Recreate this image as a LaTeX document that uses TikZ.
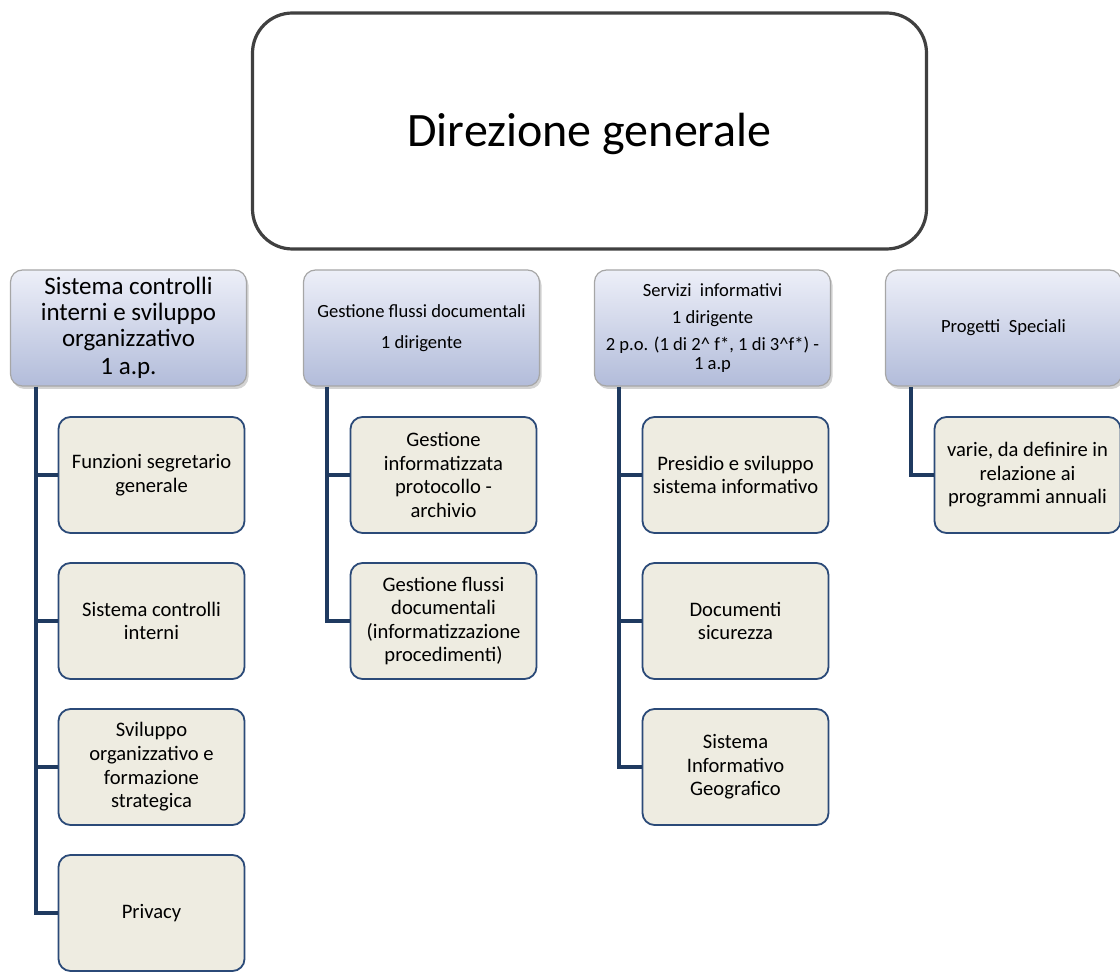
\documentclass[tikz,border=0pt]{standalone}
\usepackage{fontspec}
\setmainfont{Carlito}
\usetikzlibrary{shadows}
\definecolor{navy}{HTML}{1F3A60}
\definecolor{headtop}{HTML}{EDEFF8}
\definecolor{headbot}{HTML}{B2BCDA}
\definecolor{itemfill}{HTML}{EEECE1}
\definecolor{itemline}{HTML}{2B4A78}
\tikzset{
  topbox/.style={draw=black!75, line width=1.6pt, fill=white, rounded corners=20pt,
    minimum width=337pt, minimum height=118pt, font=\fontsize{24}{28}\selectfont},
  headbox/.style={draw=black!35, line width=0.6pt, top color=headtop, bottom color=headbot,
    rounded corners=6pt, minimum width=118pt, minimum height=58pt, align=center,
    drop shadow={shadow xshift=1pt, shadow yshift=-1.5pt, opacity=0.35}},
  itembox/.style={draw=itemline, line width=0.9pt, fill=itemfill, rounded corners=6pt,
    minimum width=93pt, minimum height=58pt, align=center,
    font=\fontsize{10.3}{11.8}\selectfont},
  link/.style={draw=navy, line width=2.4pt}
}
\begin{document}
\begin{tikzpicture}[x=0.5pt,y=-0.5pt]
  \useasboundingbox (0,0) rectangle (1120,977);
  % top
  \node[topbox] (dg) at (589.5,131) {\raisebox{-8pt}[0pt][0pt]{Direzione generale}};
  % headers
  \node[headbox, font=\fontsize{12.5}{13}\selectfont] (h1) at (128.5,328)
    {Sistema controlli\\interni e sviluppo\\organizzativo\\[1pt]1 a.p.};
  \node[headbox, font=\fontsize{9.3}{15.5}\selectfont] (h2) at (421.5,328)
    {Gestione flussi documentali\\1 dirigente};
  \node[headbox, font=\fontsize{9.3}{13.5}\selectfont, inner ysep=1pt] (h3) at (712.5,328)
    {Servizi\ \ informativi\\1 dirigente\\2 p.o. (1 di 2\^{} f*, 1 di 3\^{}f*) -\\[-4pt]1 a.p};
  \node[headbox, font=\fontsize{9.3}{11}\selectfont] (h4) at (1003.5,328)
    {Progetti\ \ Speciali};
  % column 1
  \node[itembox] (a1) at (151.5,475) {Funzioni segretario\\generale};
  \node[itembox] (a2) at (151.5,621) {Sistema controlli\\interni};
  \node[itembox] (a3) at (151.5,767) {Sviluppo\\organizzativo e\\formazione\\strategica};
  \node[itembox] (a4) at (151.5,913) {Privacy};
  % column 2
  \node[itembox] (b1) at (443.5,475) {Gestione\\informatizzata\\protocollo -\\archivio};
  \node[itembox] (b2) at (443.5,621) {Gestione flussi\\documentali\\(informatizzazione\\procedimenti)};
  % column 3
  \node[itembox] (c1) at (735.5,475) {Presidio e sviluppo\\sistema informativo};
  \node[itembox] (c2) at (735.5,621) {Documenti\\sicurezza};
  \node[itembox] (c3) at (735.5,767) {Sistema\\Informativo\\Geografico};
  % column 4
  \node[itembox] (d1) at (1027.5,475) {varie, da definire in\\relazione ai\\programmi annuali};
  % connectors
  \coordinate (ta) at (36,387);
  \coordinate (tb) at (327,387);
  \coordinate (tc) at (619,387);
  \coordinate (td) at (911,387);
  \foreach \n in {a1,a2,a3,a4} \draw[link] (ta) |- (\n.west);
  \foreach \n in {b1,b2} \draw[link] (tb) |- (\n.west);
  \foreach \n in {c1,c2,c3} \draw[link] (tc) |- (\n.west);
  \draw[link] (td) |- (d1.west);
\end{tikzpicture}
\end{document}
